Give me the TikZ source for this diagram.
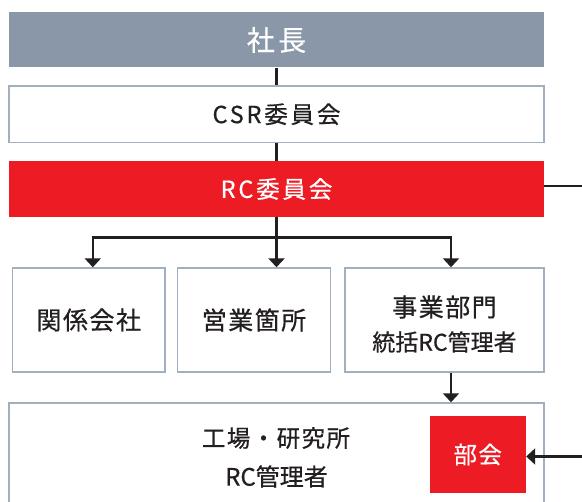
\documentclass[tikz,border=0pt]{standalone}
\usepackage{fontspec}
\setmainfont{Noto Sans CJK JP}[FakeBold=0.6]
\newfontfamily\spfont{Noto Sans CJK JP}[LetterSpace=12,FakeBold=0.6]
\newfontfamily\spfontb{Noto Sans CJK JP}[LetterSpace=6,FakeBold=0.6]
\usetikzlibrary{arrows.meta}
\definecolor{presgray}{HTML}{8A97A8}
\definecolor{bordergray}{HTML}{A2AFBF}
\definecolor{rcred}{HTML}{ED1C24}
\definecolor{ink}{HTML}{231F20}
\tikzset{
  headbox/.style={rectangle, inner sep=0pt, minimum width=535pt},
  whitebox/.style={rectangle, draw=bordergray, line width=1.4pt, fill=white, inner sep=0pt, text=ink},
  conn/.style={draw=ink, line width=2.6pt},
  arr/.style={conn, -{Triangle[width=16pt,length=9pt]}},
  lbl/.style={text=ink, align=center, inner sep=0pt}
}
\begin{document}
\begin{tikzpicture}[x=1pt,y=-1pt]
\useasboundingbox (0,0) rectangle (582,502);
\clip (0,0) rectangle (582,502);
% boxes
\node[headbox, fill=presgray, minimum height=55pt, text=white, font=\spfont\fontsize{28}{30}\selectfont] (pres) at (276.5,40) {社長};
\node[whitebox, minimum width=535pt, minimum height=56.5pt, font=\spfont\fontsize{23.5}{26}\selectfont] (csr) at (276.5,114.25) {CSR委員会};
\node[headbox, fill=rcred, minimum height=56pt, text=white, font=\spfont\fontsize{23.5}{26}\selectfont] (rc) at (276.5,189) {RC委員会};
\node[whitebox, minimum width=152.5pt, minimum height=104pt, font=\spfontb\fontsize{25}{28}\selectfont] (k1) at (88.75,320) {関係会社};
\node[whitebox, minimum width=153pt, minimum height=104pt, font=\spfontb\fontsize{25}{28}\selectfont] (k2) at (254,320) {営業箇所};
\node[whitebox, minimum width=199pt, minimum height=104pt] (k3) at (444.5,320) {};
\node[lbl, font=\spfontb\fontsize{25}{28}\selectfont] (k3a) at (444.5,307) {事業部門};
\node[lbl, font=\fontsize{23}{26}\selectfont] (k3b) at (444.5,342) {統括RC管理者};
\node[whitebox, minimum width=535pt, minimum height=130pt] (bot) at (276.5,468) {};
\node[lbl, font=\spfontb\fontsize{23.5}{26}\selectfont] (bota) at (276,438) {工場・研究所};
\node[lbl, font=\fontsize{24}{26}\selectfont] (botb) at (276.5,476.5) {RC管理者};
\node[rectangle, fill=rcred, inner sep=0pt, minimum width=96.5pt, minimum height=77pt, text=white, font=\spfontb\fontsize{23.5}{26}\selectfont] (bukai) at (477.75,454.5) {部会};
% helper coordinates
\coordinate (bar) at (276.5,237.5);
\coordinate (a1) at (92.8,237.5);
\coordinate (a2) at (276.5,237.5);
\coordinate (a3) at (451,237.5);
\coordinate (r1) at (586,186);
\coordinate (r2) at (586,456.5);
% connectors
\draw[conn] (pres.south) -- (csr.north);
\draw[conn] (csr.south) -- (rc.north);
\draw[conn] (rc.south) -- (bar);
\draw[conn] ([xshift=-1.3pt]a1) -- ([xshift=1.3pt]a3);
\draw[arr] ([yshift=-1.3pt]a1) -- (a1 |- k1.north);
\draw[arr] (a2) -- (a2 |- k2.north);
\draw[arr] ([yshift=-1.3pt]a3) -- (a3 |- k3.north);
\draw[arr] (a3 |- k3.south) -- (a3 |- bot.north);
\draw[conn] (rc.east |- r1) -- (r1) -- (r2);
\draw[arr] (r2) -- (r2 -| bukai.east);
\end{tikzpicture}
\end{document}
